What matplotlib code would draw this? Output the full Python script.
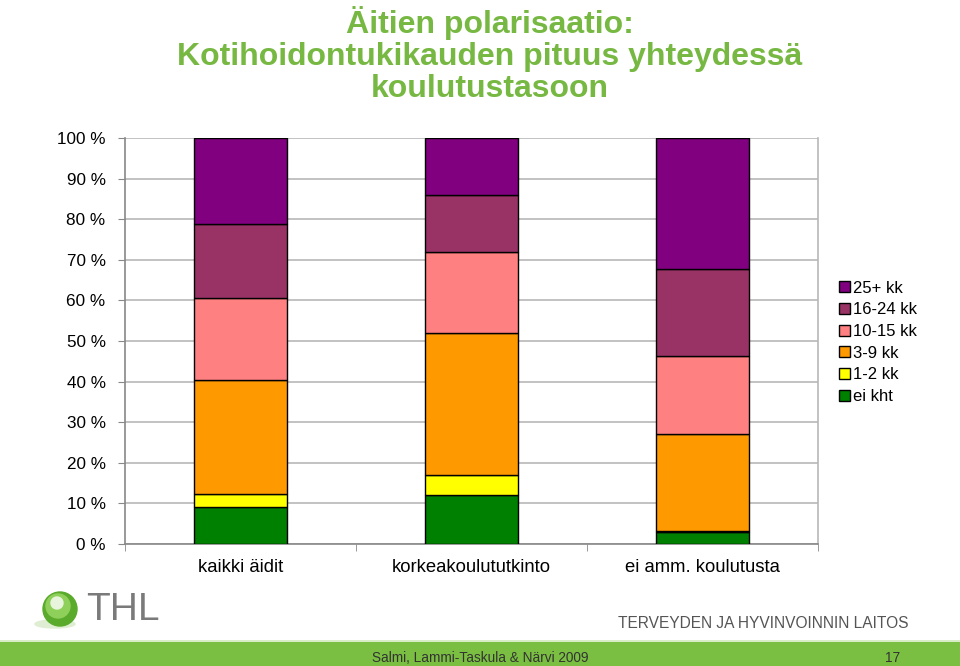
import matplotlib
matplotlib.use("Agg")
import matplotlib.pyplot as plt
from matplotlib.patches import Rectangle, Circle, Ellipse
import numpy as np

plt.rcParams['font.family'] = ['Liberation Sans', 'DejaVu Sans']

categories = ["kaikki äidit", "korkeakoulututkinto", "ei amm. koulutusta"]
series_names = ["ei kht", "1-2 kk", "3-9 kk", "10-15 kk", "16-24 kk", "25+ kk"]
values = {
    "ei kht":   [9.0, 12.0, 3.0],
    "1-2 kk":   [3.2, 5.0, 0.2],
    "3-9 kk":   [28.2, 35.0, 24.0],
    "10-15 kk": [20.1, 20.0, 19.2],
    "16-24 kk": [18.3, 14.0, 21.3],
    "25+ kk":   [21.2, 14.0, 32.3],
}
colors = {
    "ei kht": "#008000",
    "1-2 kk": "#ffff00",
    "3-9 kk": "#ff9900",
    "10-15 kk": "#ff8080",
    "16-24 kk": "#993366",
    "25+ kk": "#800080",
}
yticks = [0, 10, 20, 30, 40, 50, 60, 70, 80, 90, 100]
ytick_labels = [f"{v} %" for v in yticks]

W, H = 960, 666
fig = plt.figure(figsize=(9.6, 6.66), dpi=100)

# Title
fig.text(490 / W, 1 - 55 / H,
         "Äitien polarisaatio:\nKotihoidontukikauden pituus yhteydessä\nkoulutustasoon",
         ha="center", va="center", color="#77b843", fontsize=23, fontweight="bold",
         linespacing=1.08)

ax = fig.add_axes([125 / W, (H - 544) / H, 693 / W, 406 / H])
x = np.arange(len(categories))
bottom = np.zeros(len(categories))
for name in series_names:
    v = np.array(values[name])
    ax.bar(x, v, bottom=bottom, width=0.4, color=colors[name], edgecolor="black",
           linewidth=1.0, label=name, zorder=3)
    bottom += v

ax.set_xlim(-0.5, len(categories) - 0.5)
ax.set_ylim(0, 100)
ax.set_yticks(yticks)
ax.set_yticklabels(ytick_labels, fontsize=12.3)
ax.set_xticks(x)
ax.set_xticklabels(categories, fontsize=13.3)
ax.tick_params(axis="x", length=0, pad=11)
ax.tick_params(axis="y", length=5, color="#888888", pad=9)
# category boundary ticks
ax.set_xticks(np.arange(len(categories) + 1) - 0.5, minor=True)
ax.tick_params(axis="x", which="minor", length=5, color="#888888")
ax.grid(axis="y", color="#b8b8b8", linewidth=1.2, zorder=0)
for s in ["left", "bottom"]:
    ax.spines[s].set_color("#888888")
    ax.spines[s].set_linewidth(1.2)
ax.spines["top"].set_visible(False)
ax.spines["right"].set_color("#b8b8b8")
ax.spines["right"].set_linewidth(1.2)

handles, labels = ax.get_legend_handles_labels()
leg = fig.legend(handles[::-1], labels[::-1], loc="upper left",
                 bbox_to_anchor=(832 / W, 1 - 274 / H), frameon=False,
                 fontsize=12, handlelength=0.65, handleheight=0.65,
                 handletextpad=0.2, labelspacing=0.40, borderaxespad=0)

# Footer band
fig.patches.append(Rectangle((0, 0), 1, 24 / H, transform=fig.transFigure,
                             facecolor="#7abf42", edgecolor="none", zorder=0))
fig.patches.append(Rectangle((0, 24 / H), 1, 2 / H, transform=fig.transFigure,
                             facecolor="#d8ecc8", edgecolor="none", zorder=0))
fig.text(480 / W, 8 / H, "Salmi, Lammi-Taskula & Närvi 2009", ha="center",
         va="center", fontsize=9.8, color="#333333")
fig.text(893 / W, 8 / H, "17", ha="center", va="center", fontsize=9.8,
         color="#333333")
fig.text(908 / W, 1 - 623 / H, "TERVEYDEN JA HYVINVOINNIN LAITOS", ha="right",
         va="center", fontsize=11.2, color="#555555")

# THL logo
lax = fig.add_axes([25 / W, 1 - 632 / H, 60 / W, 45 / H])
lax.set_xlim(0, 60)
lax.set_ylim(0, 45)
lax.set_aspect("equal")
lax.axis("off")
lax.add_patch(Ellipse((30, 8), 40, 8, color="#dfeed3", zorder=1))
lax.add_patch(Circle((35, 23), 17, color="#5aaa2c", zorder=2))
lax.add_patch(Circle((33, 26), 12, color="#8fd05a", zorder=3))
lax.add_patch(Circle((32, 29), 6, color="#e8f5dc", zorder=4))
fig.text(86 / W, 1 - 610 / H, "THL", ha="left", va="center", fontsize=28,
         color="#7a7a7a")

fig.savefig("out.png", dpi=100)
